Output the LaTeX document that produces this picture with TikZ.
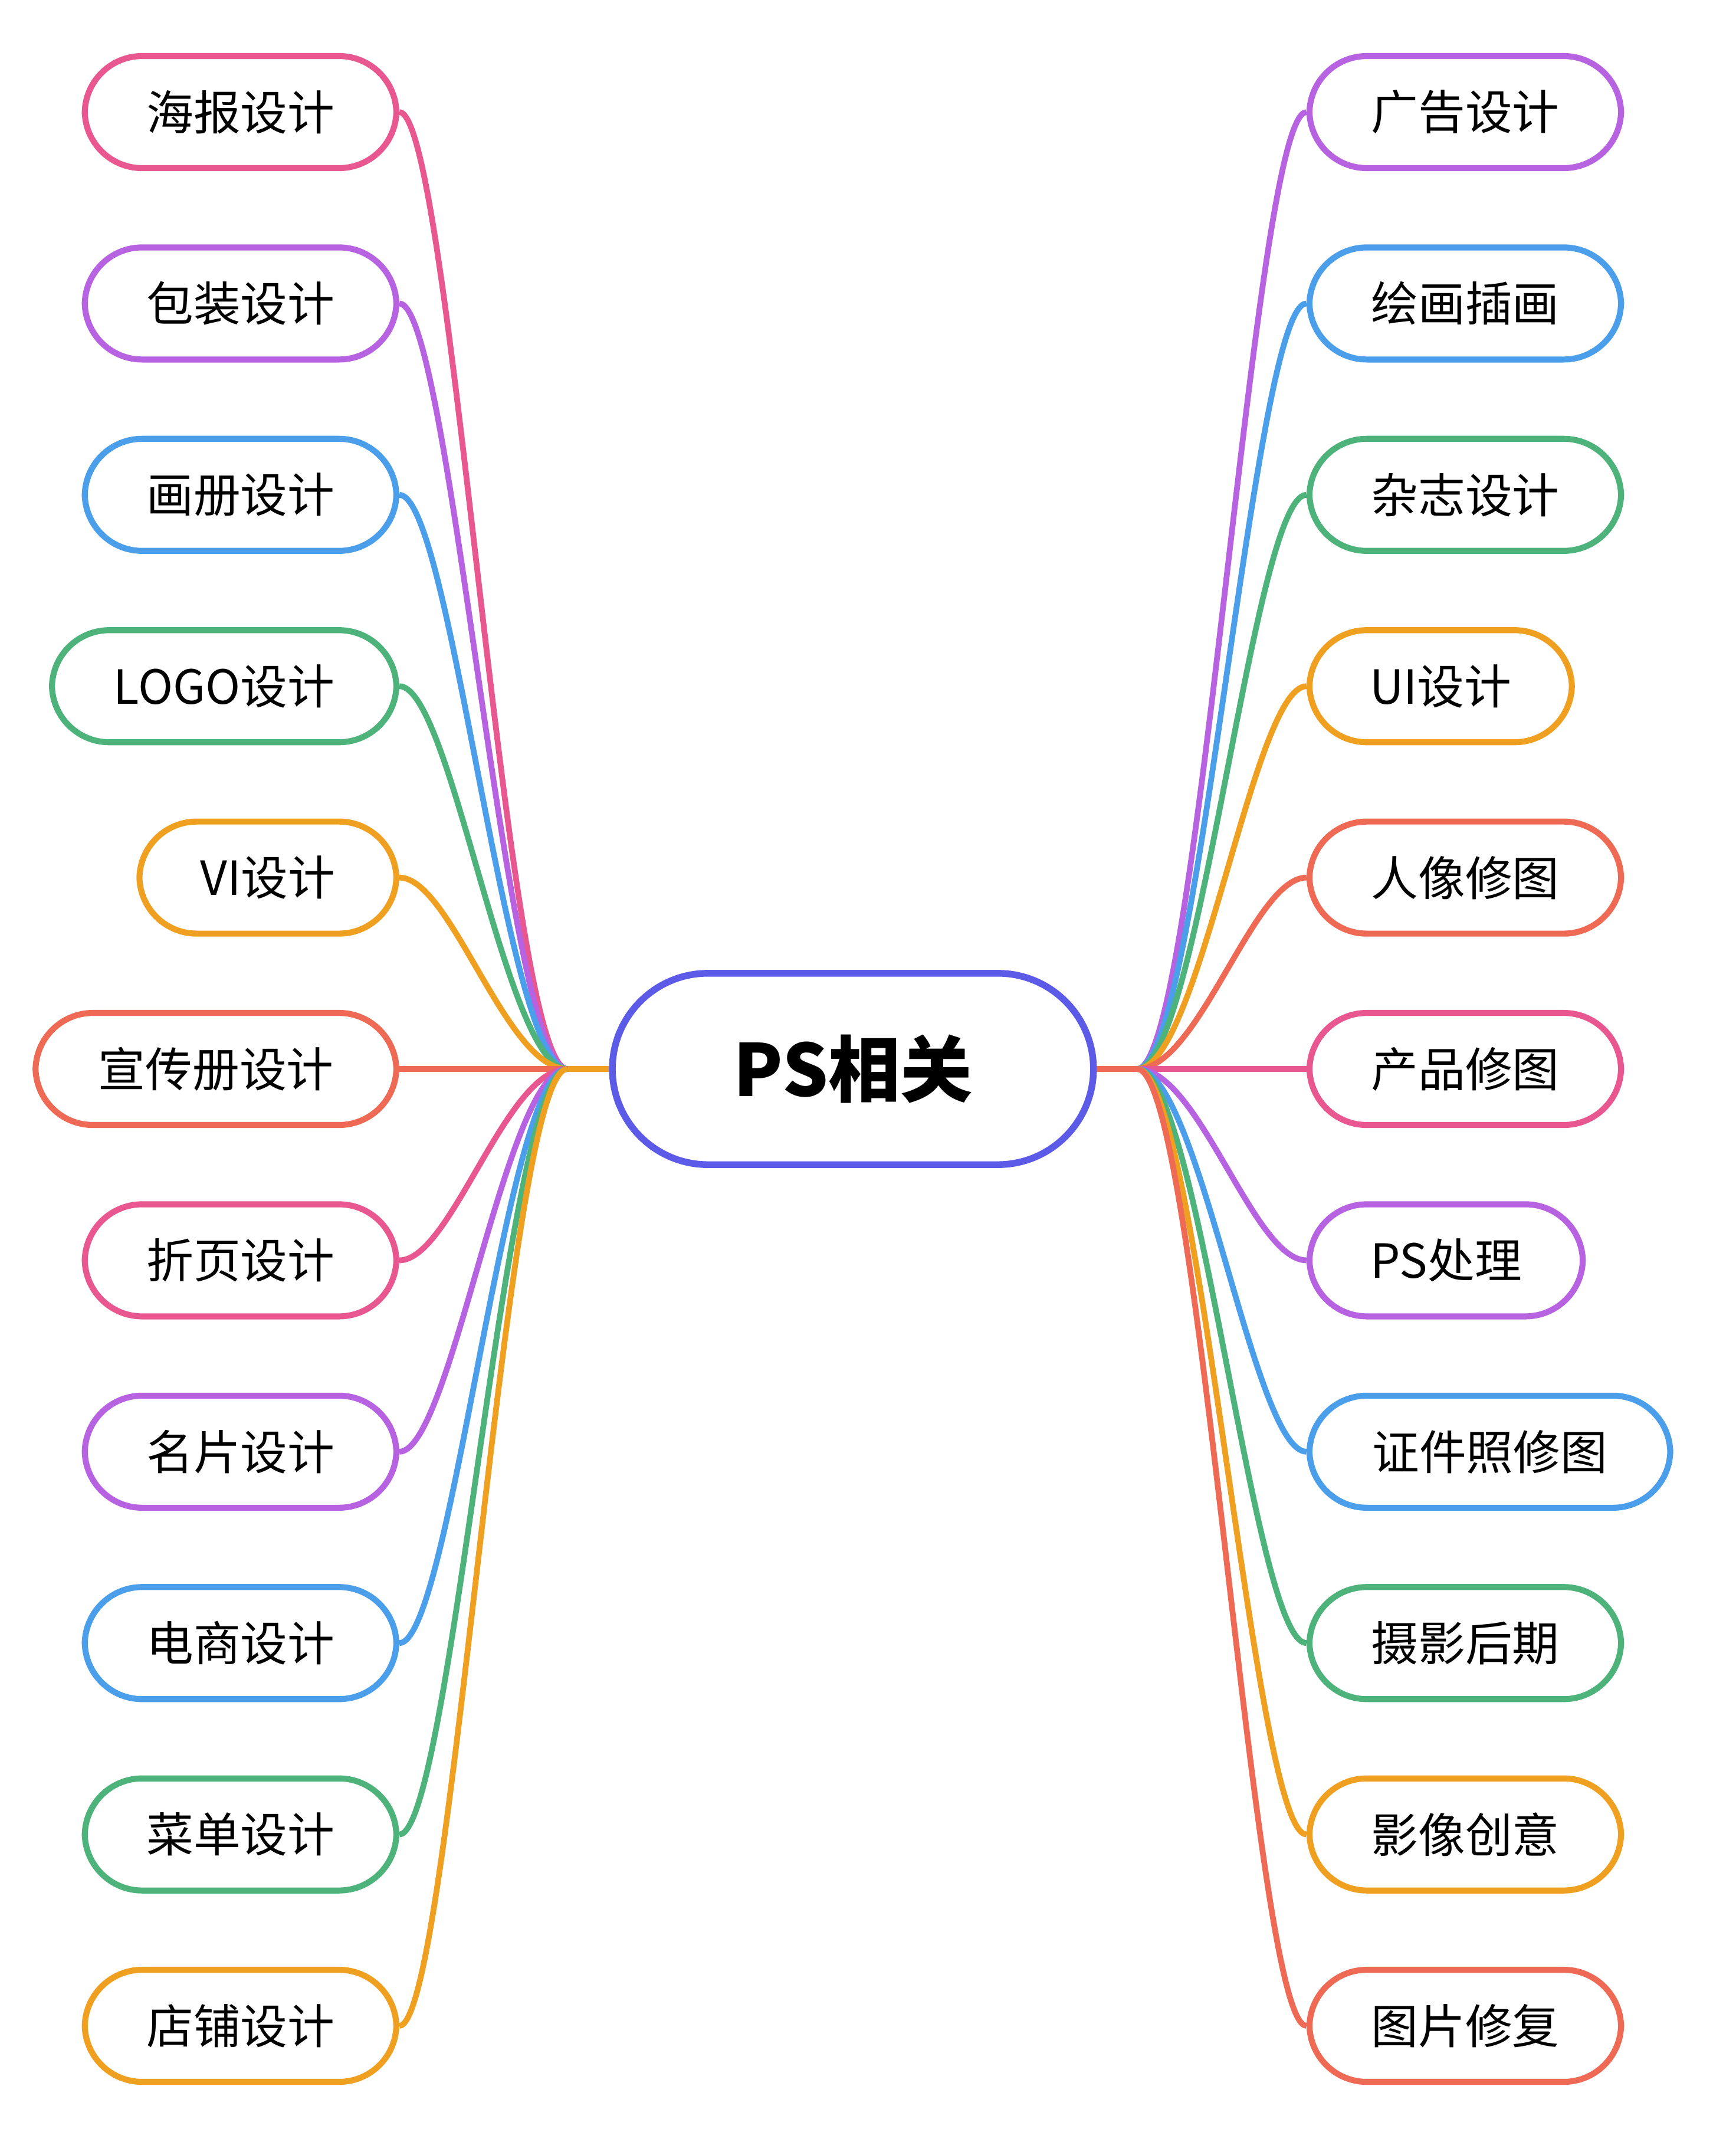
\documentclass[tikz,border=0pt]{standalone}
\usepackage{fontspec}
\newfontfamily\cjk{Noto Sans CJK SC}
\definecolor{cpink}{HTML}{E8578F}
\definecolor{cpurple}{HTML}{B762E0}
\definecolor{cblue}{HTML}{4A9EEA}
\definecolor{cgreen}{HTML}{4DB37A}
\definecolor{corange}{HTML}{F0A020}
\definecolor{cred}{HTML}{EE6A55}
\definecolor{ccenter}{HTML}{5B5BE8}
\tikzset{
 leaf/.style={draw=#1, line width=12.5pt, rounded corners=4.2cm, minimum height=8.2cm, inner sep=0pt, font=\cjk\fontsize{98}{110}\selectfont, fill=white},
 link/.style={draw=#1, line width=12pt},
}
\begin{document}
\begin{tikzpicture}[x=0.1cm,y=-0.1cm]
\useasboundingbox (0,0) rectangle (1270,1567);
\coordinate (JL) at (415,782);
\coordinate (JR) at (832,782);
% center
\node[draw=ccenter, line width=14pt, rounded corners=7cm, minimum width=35.2cm, minimum height=14cm, inner sep=0pt, font=\cjk\bfseries\fontsize{150}{160}\selectfont, fill=white] (C) at (624,782) {PS相关};
\draw[link=corange] (C.west) -- (JL);
\draw[link=cred] (C.east) -- (JR);
% left nodes: name/left/y/color/text
\foreach \n/\l/\yy/\c/\t in {
 l1/62/82/cpink/海报设计, l2/62/222/cpurple/包装设计, l3/62/362/cblue/画册设计,
 l4/38/502/cgreen/LOGO设计, l5/102/642/corange/VI设计, l6/26/782/cred/宣传册设计,
 l7/62/922/cpink/折页设计, l8/62/1062/cpurple/名片设计, l9/62/1202/cblue/电商设计,
 l10/62/1342/cgreen/菜单设计, l11/62/1482/corange/店铺设计}{
  \pgfmathsetmacro\w{(290-\l)/10}
  \node[leaf=\c, minimum width=\w cm] (\n) at ({(290+\l)/2},\yy) {\t};
  \draw[link=\c] (JL) .. controls (370,782) and (330,\yy) .. (\n.east);
}
\foreach \n/\r/\yy/\c/\t in {
 r1/1186/82/cpurple/广告设计, r2/1186/222/cblue/绘画插画, r3/1186/362/cgreen/杂志设计,
 r4/1150/502/corange/UI设计, r5/1186/642/cred/人像修图, r6/1186/782/cpink/产品修图,
 r7/1158/922/cpurple/PS处理, r8/1222/1062/cblue/证件照修图, r9/1186/1202/cgreen/摄影后期,
 r10/1186/1342/corange/影像创意, r11/1186/1482/cred/图片修复}{
  \pgfmathsetmacro\w{(\r-958)/10}
  \node[leaf=\c, minimum width=\w cm] (\n) at ({(958+\r)/2},\yy) {\t};
  \draw[link=\c] (JR) .. controls (877,782) and (917,\yy) .. (\n.west);
}
\end{tikzpicture}
\end{document}
